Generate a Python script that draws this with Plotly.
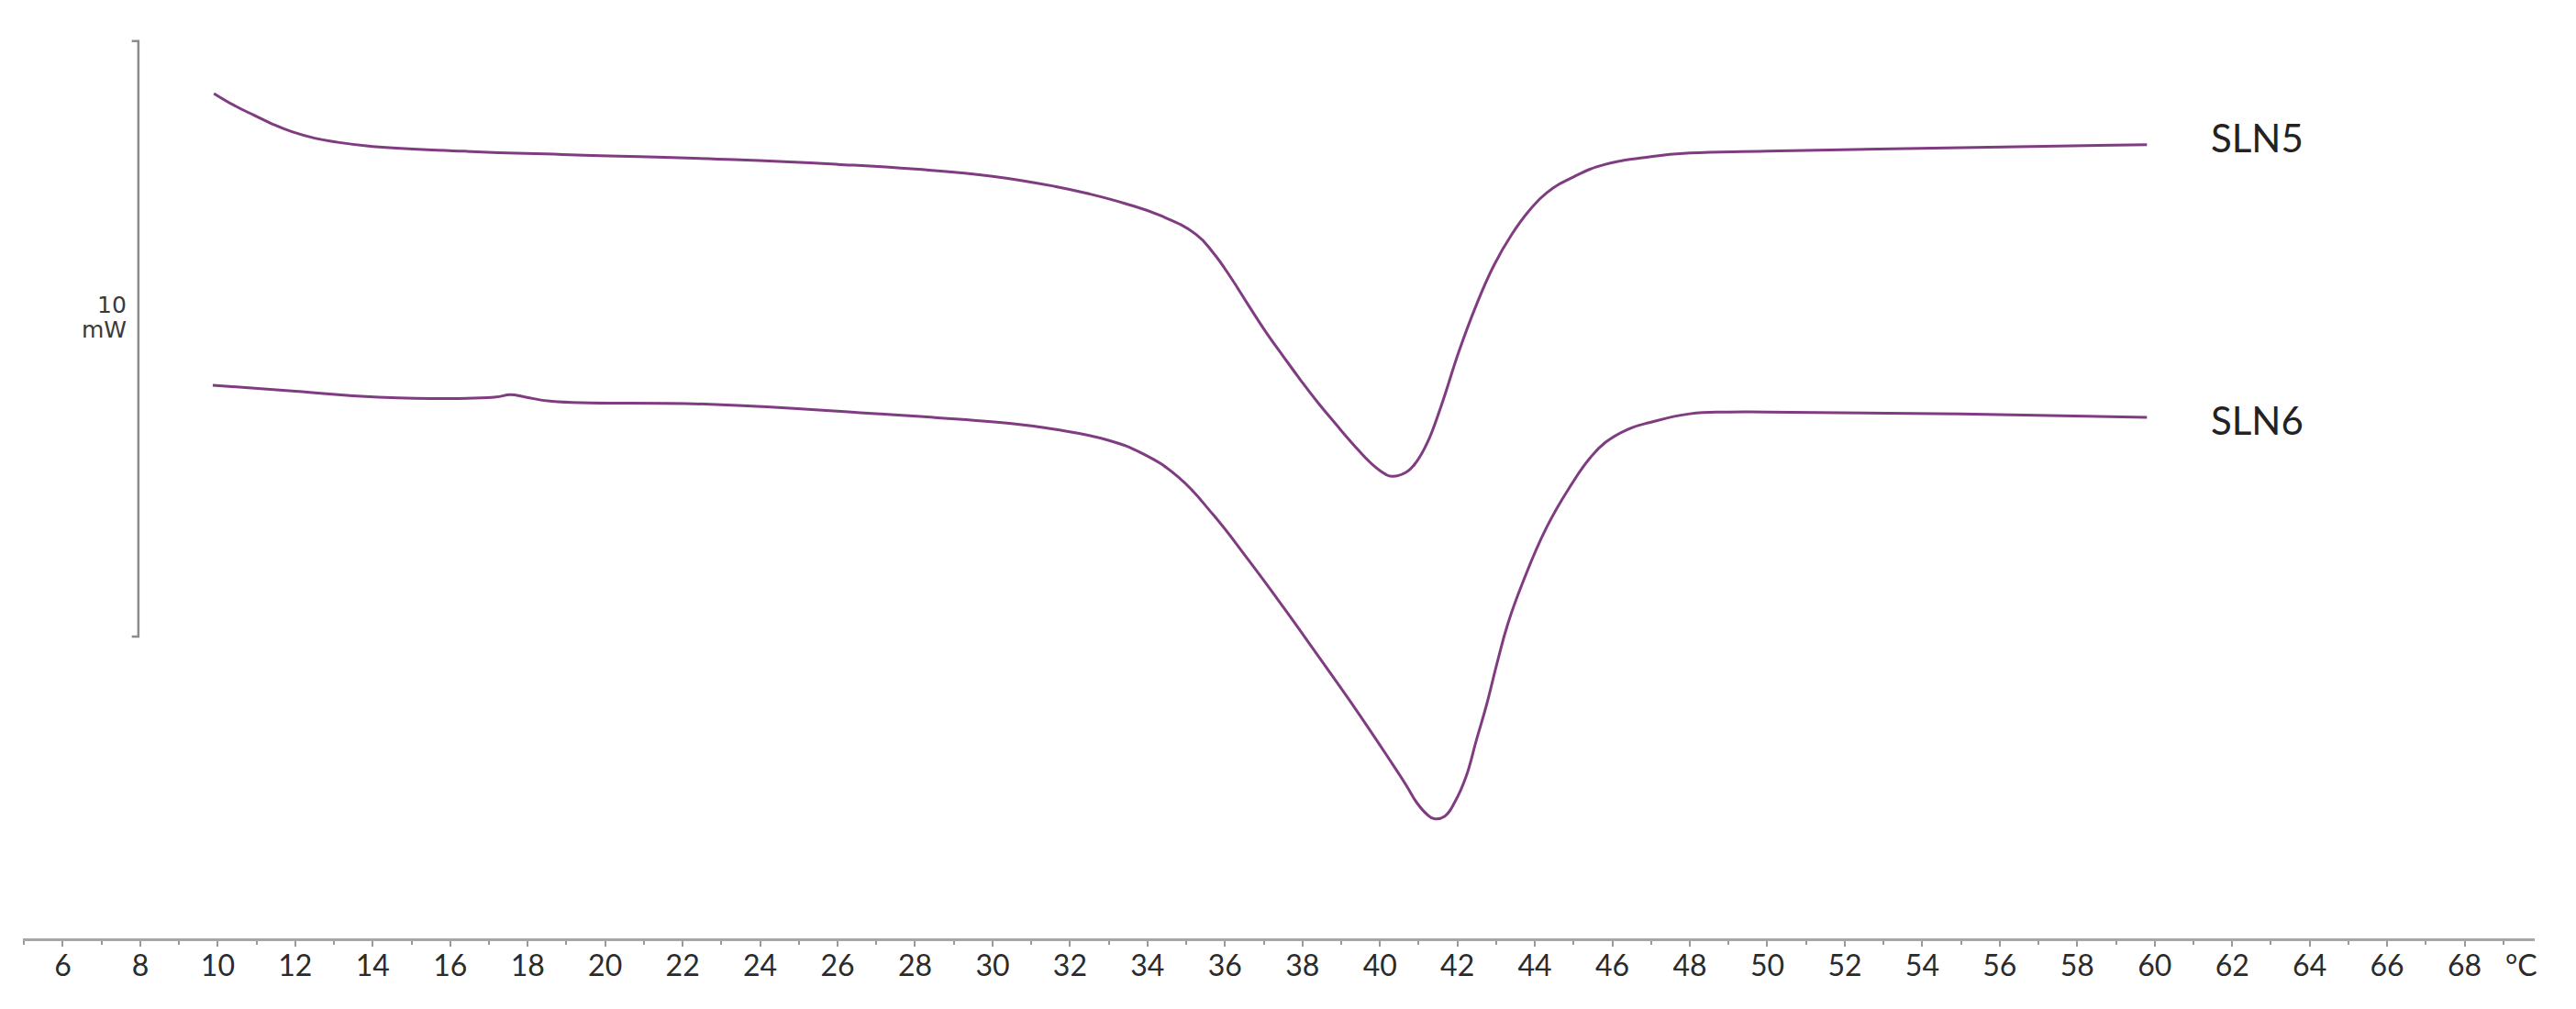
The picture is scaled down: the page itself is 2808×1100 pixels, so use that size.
import plotly.graph_objs as go

# DSC traces (temperature in deg C, heat flow in mW, arbitrary offset)
sln5_temp = [9.9, 10.45, 10.95, 11.4, 11.9, 12.5, 13.0, 14.0, 16.37, 19.09, 23.33, 26.0, 28.0, 30.0,
             31.61, 32.52, 33.43, 34.33, 35.24, 35.69, 36.15, 36.6, 37.05, 37.51, 37.96, 38.41,
             38.87, 39.32, 39.77, 40.13, 40.31, 40.68, 40.95, 41.22, 41.58, 42.04, 42.49, 42.94,
             43.4, 43.85, 44.3, 45.03, 45.82, 47.0, 48.0, 50.0, 55.0, 59.8]
sln5_mw = [14.19, 13.98, 13.82, 13.68, 13.55, 13.44, 13.38, 13.3, 13.22, 13.16, 13.08, 13.0, 12.92,
           12.8, 12.63, 12.5, 12.34, 12.14, 11.83, 11.52, 11.1, 10.64, 10.19, 9.77, 9.37, 8.99,
           8.63, 8.29, 7.98, 7.8, 7.76, 7.83, 8.01, 8.32, 8.94, 9.86, 10.64, 11.3,
           11.82, 12.22, 12.52, 12.8, 13.0, 13.13, 13.19, 13.22, 13.28, 13.33]

sln6_temp = [9.87, 12.0, 14.15, 17.14, 17.55, 17.95, 18.63, 22.71, 26.79, 30.43, 31.61, 32.97,
             33.88, 34.79, 35.69, 36.6, 37.51, 38.41, 39.32, 40.23, 40.68, 40.95, 41.22, 41.4,
             41.67, 41.95, 42.22, 42.49, 42.76, 43.03, 43.31, 43.67, 44.3, 44.94, 45.4, 45.82,
             46.4, 47.0, 48.0, 49.0, 50.0, 55.0, 59.8]
sln6_mw = [9.29, 9.19, 9.09, 9.09, 9.13, 9.09, 9.02, 8.97, 8.82, 8.65, 8.55, 8.37,
           8.14, 7.75, 7.12, 6.36, 5.56, 4.74, 3.9, 3.02, 2.57, 2.28, 2.08, 2.01,
           2.05, 2.31, 2.71, 3.33, 3.94, 4.64, 5.3, 5.95, 6.9, 7.62, 8.05, 8.33,
           8.55, 8.67, 8.81, 8.84, 8.84, 8.81, 8.75]

sample_names = ['SLN5', 'SLN6']

# 10 mW scale bar on the left
scale_bar_mw = 10
scale_bar_bottom = 5.07
scale_bar_temp = 7.95

x_ticks = list(range(6, 70, 2))

if __name__ == '__main__':
    purple = '#803c80'
    fig = go.Figure()

    for t, mw in [(sln5_temp, sln5_mw), (sln6_temp, sln6_mw)]:
        fig.add_trace(go.Scatter(x=t, y=mw, mode='lines',
                                 line=dict(color=purple, width=3, shape='spline', smoothing=1.3),
                                 showlegend=False, hoverinfo='skip'))

    # scale bar bracket
    top = scale_bar_bottom + scale_bar_mw
    fig.add_trace(go.Scatter(x=[scale_bar_temp - 0.17, scale_bar_temp, scale_bar_temp, scale_bar_temp - 0.17],
                             y=[top, top, scale_bar_bottom, scale_bar_bottom], mode='lines',
                             line=dict(color='#8c8c8c', width=2.5), showlegend=False, hoverinfo='skip'))

    fig.add_annotation(x=scale_bar_temp - 0.25, y=scale_bar_bottom + 5.57, text=str(scale_bar_mw),
                       showarrow=False, xanchor='right', yanchor='middle',
                       font=dict(family='DejaVu Sans', size=25, color='#3a3a3a'))
    fig.add_annotation(x=scale_bar_temp - 0.25, y=scale_bar_bottom + 5.15, text='mW',
                       showarrow=False, xanchor='right', yanchor='middle',
                       font=dict(family='DejaVu Sans', size=25, color='#3a3a3a'))

    # sample labels at the right end of each trace
    for name, label_y in zip(sample_names, [13.45, 8.71]):
        fig.add_annotation(x=61.4, y=label_y, text=name, showarrow=False,
                           xanchor='left', yanchor='middle',
                           font=dict(family='Lato', size=42, color='#222222'))

    fig.add_annotation(x=69.46, xref='x', y=-0.028, yref='paper', text='°C', showarrow=False,
                       xanchor='center', yanchor='middle',
                       font=dict(family='Lato', size=32, color='#2b2b2b'))

    fig.update_xaxes(range=[4.97, 69.81], tickvals=x_ticks, ticktext=[str(v) for v in x_ticks],
                     showline=True, linecolor='#a6a6a6', linewidth=3, showgrid=False, zeroline=False,
                     ticks='outside', ticklen=6, tickwidth=2, tickcolor='#9a9a9a', ticklabelstandoff=-6,
                     minor=dict(tickvals=list(range(5, 70, 2)), ticks='outside', ticklen=4,
                                tickwidth=2, tickcolor='#9a9a9a'),
                     tickfont=dict(family='Lato', size=32, color='#2b2b2b'))
    fig.update_yaxes(range=[0, 15.76], visible=False)

    fig.update_layout(width=2808, height=1100, margin=dict(l=25, r=45, t=0, b=77),
                      paper_bgcolor='white', plot_bgcolor='white')

    # the page body has a default margin; drop it so the figure sits at the window corner
    fig.write_html('out.html', config={'displayModeBar': False},
                   post_script="document.body.style.margin='0';")
